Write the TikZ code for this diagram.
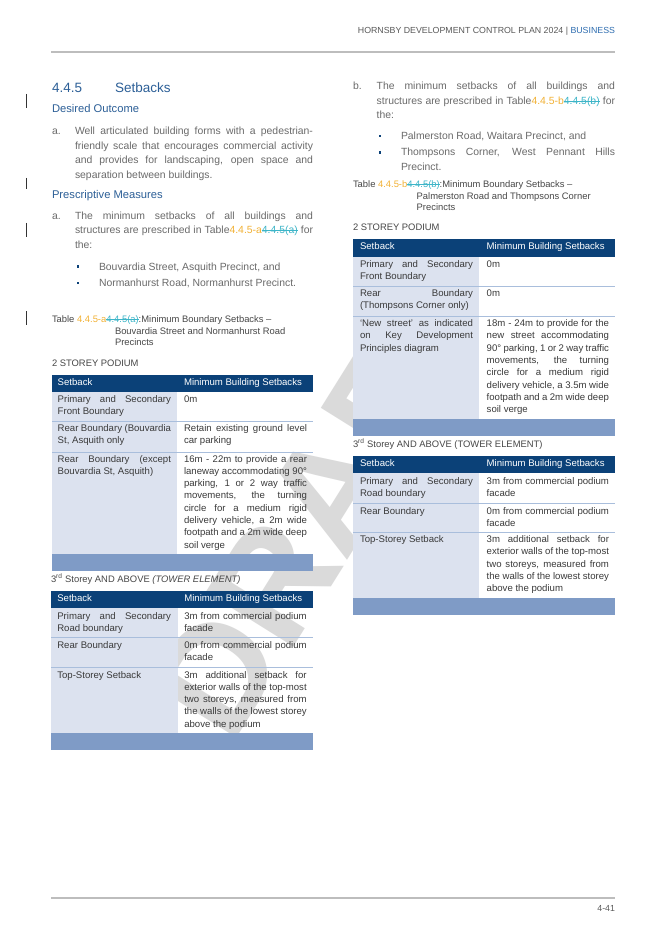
\documentclass[tikz,border=0pt]{standalone}
\usepackage{fontspec}
\setmainfont{Liberation Sans}
\definecolor{navy}{HTML}{0B4178}
\definecolor{cellblue}{HTML}{DCE2EF}
\definecolor{footblue}{HTML}{7F9BC6}
\definecolor{rowline}{HTML}{A9BEDC}
\definecolor{bodygrey}{HTML}{6A6A6A}
\definecolor{cellgrey}{HTML}{3A3A3A}
\definecolor{capgrey}{HTML}{474747}
\definecolor{titleblue}{HTML}{2C5F97}
\definecolor{busblue}{HTML}{2E6DB0}
\definecolor{refor}{HTML}{F2B134}
\definecolor{reftl}{HTML}{3DB5C8}
\definecolor{rulegrey}{HTML}{BDBDBD}
\definecolor{wmgrey}{HTML}{DADADA}
\newsavebox\strkbox
\newcommand\strk[1]{\sbox\strkbox{#1}\rlap{\rule[0.3em]{\wd\strkbox}{0.5pt}}\usebox\strkbox}
\newcommand\orn[1]{\textcolor{refor}{#1}}
\newcommand\tea[1]{\textcolor{reftl}{\strk{#1}}}
\newcommand\jl[2]{\makebox[#1pt][s]{#2}}
\newcommand\fbody{\fontsize{10.4}{14.5}\selectfont}
\newcommand\fcell{\fontsize{9.6}{12.3}\selectfont}
\newcommand\fcap{\fontsize{9.4}{11.7}\selectfont}
\newcommand\fhead{\fontsize{8.8}{10}\selectfont}
\newcommand\ftitle{\fontsize{13.5}{16}\selectfont}
\newcommand\fsub{\fontsize{11.2}{13}\selectfont}
\tikzset{
  txt/.style={anchor=base west, inner sep=0pt, outer sep=0pt},
  body/.style={txt, font=\fbody, text=bodygrey},
  cell/.style={txt, font=\fcell, text=cellgrey},
  hcell/.style={txt, font=\fcell, text=white},
  captxt/.style={txt, font=\fcap, text=capgrey},
  titletxt/.style={txt, font=\ftitle, text=titleblue},
  subtxt/.style={txt, font=\fsub, text=titleblue},
  bsq/.style={fill=navy, inner sep=0pt, minimum size=2.6pt},
  chbar/.style={draw=black!80, line width=0.9pt},
  rowsep/.style={draw=rowline, line width=0.9pt},
  rulel/.style={draw=rulegrey, line width=1.3pt},
}
\begin{document}
\begin{tikzpicture}[x=1pt,y=-1pt]
\useasboundingbox (0,0) rectangle (666,941);
\fill[white] (0,0) rectangle (666,941);
% watermark
\node[rotate=58, text=wmgrey, font=\fontsize{150}{150}\selectfont\bfseries, inner sep=0pt] (wm) at (322,504) {DRAFT};
% header / footer
\node[txt, anchor=base east, font=\fhead, text=black!65] (hdr) at (615,34) {HORNSBY DEVELOPMENT CONTROL PLAN 2024 | \textcolor{busblue}{BUSINESS}};
\coordinate (hr1) at (51,52); \coordinate (hr2) at (615,52);
\draw[rulel] (hr1) -- (hr2);
\coordinate (fr1) at (51,898); \coordinate (fr2) at (615,898);
\draw[rulel] (fr1) -- (fr2);
\node[txt, anchor=base east, font=\fhead, text=black!65] (pg) at (615,911) {4-41};
% change bars
\coordinate (cb1a) at (26,94); \coordinate (cb1b) at (26,108); \draw[chbar] (cb1a) -- (cb1b);
\coordinate (cb2a) at (26,178); \coordinate (cb2b) at (26,189); \draw[chbar] (cb2a) -- (cb2b);
\coordinate (cb3a) at (26,223); \coordinate (cb3b) at (26,237); \draw[chbar] (cb3a) -- (cb3b);
\coordinate (cb4a) at (26,311); \coordinate (cb4b) at (26,325); \draw[chbar] (cb4a) -- (cb4b);
% ---------- left column
\node[titletxt] (secn) at (52,93) {4.4.5};
\node[titletxt] (sect) at (115,93) {Setbacks};
\node[subtxt] (desired) at (52,113) {Desired Outcome};
\node[body] (la) at (52,135) {a.};
\node[body] (la1) at (75,135) {\jl{238}{Well articulated building forms with a pedestrian-}};
\node[body] (la2) at (75,149.5) {\jl{238}{friendly scale that encourages commercial activity}};
\node[body] (la3) at (75,164) {\jl{238}{and provides for landscaping, open space and}};
\node[body] (la4) at (75,178.5) {separation between buildings.};
\node[subtxt] (presc) at (52,199) {Prescriptive Measures};
\node[body] (lb) at (52,219) {a.};
\node[body] (lb1) at (75,219) {\jl{238}{The minimum setbacks of all buildings and}};
\node[body] (lb2) at (75,233.5) {\jl{238}{structures are prescribed in Table\orn{4.4.5-a}\tea{4.4.5(a)} for}};
\node[body] (lb3) at (75,248) {the:};
\node[bsq] (bl1) at (78,266.5) {};
\node[body] (lbt1) at (99,270) {Bouvardia Street, Asquith Precinct, and};
\node[bsq] (bl2) at (78,283) {};
\node[body] (lbt2) at (99,286.5) {Normanhurst Road, Normanhurst Precinct.};
\node[captxt] (capa1) at (52,322.5) {Table \orn{4.4.5-a}\tea{4.4.5(a)}:Minimum Boundary Setbacks –};
\node[captxt] (capa2) at (115,334.2) {Bouvardia Street and Normanhurst Road};
\node[captxt] (capa3) at (115,345.9) {Precincts};
\node[captxt] (poda) at (52,366) {2 STOREY PODIUM};
% table L1
\fill[navy] (52,375) rectangle (313,392);
\fill[cellblue] (52,392) rectangle (177,554);
\fill[footblue] (52,554) rectangle (313,571);
\coordinate (l1s1a) at (52,421); \coordinate (l1s1b) at (313,421); \draw[rowsep] (l1s1a) -- (l1s1b);
\coordinate (l1s2a) at (52,452); \coordinate (l1s2b) at (313,452); \draw[rowsep] (l1s2a) -- (l1s2b);
\node[hcell] (l1h1) at (57.7,385) {Setback};
\node[hcell] (l1h2) at (184,385) {Minimum Building Setbacks};
\node[cell] (l1a1) at (57.7,402.5) {\jl{113.3}{Primary and Secondary}};
\node[cell] (l1a2) at (57.7,414.8) {Front Boundary};
\node[cell] (l1b1) at (184,402.5) {0m};
\node[cell] (l1c1) at (57.7,431.5) {\jl{113.3}{Rear Boundary (Bouvardia}};
\node[cell] (l1c2) at (57.7,443.8) {St, Asquith only};
\node[cell] (l1d1) at (184,431.5) {\jl{123}{Retain existing ground level}};
\node[cell] (l1d2) at (184,443.8) {car parking};
\node[cell] (l1e1) at (57.7,462) {\jl{113.3}{Rear Boundary (except}};
\node[cell] (l1e2) at (57.7,474.3) {Bouvardia St, Asquith)};
\node[cell] (l1f1) at (184,462) {\jl{123}{16m - 22m to provide a rear}};
\node[cell] (l1f2) at (184,474.3) {\jl{123}{laneway accommodating 90°}};
\node[cell] (l1f3) at (184,486.6) {\jl{123}{parking, 1 or 2 way traffic}};
\node[cell] (l1f4) at (184,498.9) {\jl{123}{movements, the turning}};
\node[cell] (l1f5) at (184,511.2) {\jl{123}{circle for a medium rigid}};
\node[cell] (l1f6) at (184,523.5) {\jl{123}{delivery vehicle, a 2m wide}};
\node[cell] (l1f7) at (184,535.8) {\jl{123}{footpath and a 2m wide deep}};
\node[cell] (l1f8) at (184,548.1) {soil verge};
\node[captxt] (towa) at (51,582) {3\textsuperscript{rd} Storey AND ABOVE \textit{(TOWER ELEMENT)}};
% table L2
\fill[navy] (51,591) rectangle (313,608);
\fill[cellblue] (51,608) rectangle (178,733);
\fill[footblue] (51,733) rectangle (313,750);
\coordinate (l2s1a) at (51,637) ; \coordinate (l2s1b) at (313,637); \draw[rowsep] (l2s1a) -- (l2s1b);
\coordinate (l2s2a) at (51,667) ; \coordinate (l2s2b) at (313,667); \draw[rowsep] (l2s2a) -- (l2s2b);
\node[hcell] (l2h1) at (57.3,601.5) {Setback};
\node[hcell] (l2h2) at (184.3,601.5) {Minimum Building Setbacks};
\node[cell] (l2a1) at (57.3,619) {\jl{113.7}{Primary and Secondary}};
\node[cell] (l2a2) at (57.3,631.3) {Road boundary};
\node[cell] (l2b1) at (184.3,619) {\jl{122.4}{3m from commercial podium}};
\node[cell] (l2b2) at (184.3,631.3) {facade};
\node[cell] (l2c1) at (57.3,648) {Rear Boundary};
\node[cell] (l2d1) at (184.3,648) {\jl{122.4}{0m from commercial podium}};
\node[cell] (l2d2) at (184.3,660.3) {facade};
\node[cell] (l2e1) at (57.3,678) {Top-Storey Setback};
\node[cell] (l2f1) at (184.3,678) {\jl{122.4}{3m additional setback for}};
\node[cell] (l2f2) at (184.3,690.3) {\jl{122.4}{exterior walls of the top-most}};
\node[cell] (l2f3) at (184.3,702.6) {\jl{122.4}{two storeys, measured from}};
\node[cell] (l2f4) at (184.3,714.9) {\jl{122.4}{the walls of the lowest storey}};
\node[cell] (l2f5) at (184.3,727.2) {above the podium};
% ---------- right column
\node[body] (rb) at (353,90) {b.};
\node[body] (rb1) at (376.7,90) {\jl{238.3}{The minimum setbacks of all buildings and}};
\node[body] (rb2) at (376.7,104.5) {\jl{238.3}{structures are prescribed in Table\orn{4.4.5-b}\tea{4.4.5(b)} for}};
\node[body] (rb3) at (376.7,119) {the:};
\node[bsq] (br1) at (380,136) {};
\node[body] (rbt1) at (401,139.5) {Palmerston Road, Waitara Precinct, and};
\node[bsq] (br2) at (380,152.5) {};
\node[body] (rbt2) at (401,156) {\jl{214}{Thompsons Corner, West Pennant Hills}};
\node[body] (rbt3) at (401,170.5) {Precinct.};
\node[captxt] (capb1) at (353,187.3) {Table \orn{4.4.5-b}\tea{4.4.5(b)}:Minimum Boundary Setbacks –};
\node[captxt] (capb2) at (416.7,199.2) {Palmerston Road and Thompsons Corner};
\node[captxt] (capb3) at (416.7,211) {Precincts};
\node[captxt] (podb) at (353,230.5) {2 STOREY PODIUM};
% table R1
\fill[white] (353,239) rectangle (615,436);
\fill[navy] (353,239) rectangle (615,257);
\fill[cellblue] (353,257) rectangle (479,419);
\fill[footblue] (353,419) rectangle (615,436);
\coordinate (r1s1a) at (353,286); \coordinate (r1s1b) at (615,286); \draw[rowsep] (r1s1a) -- (r1s1b);
\coordinate (r1s2a) at (353,316); \coordinate (r1s2b) at (615,316); \draw[rowsep] (r1s2a) -- (r1s2b);
\node[hcell] (r1h1) at (360,249.5) {Setback};
\node[hcell] (r1h2) at (486.7,249.5) {Minimum Building Setbacks};
\node[cell] (r1a1) at (360,267.5) {\jl{113}{Primary and Secondary}};
\node[cell] (r1a2) at (360,279.8) {Front Boundary};
\node[cell] (r1b1) at (486.7,267.5) {0m};
\node[cell] (r1c1) at (360,296.5) {\jl{113}{Rear Boundary}};
\node[cell] (r1c2) at (360,308.8) {(Thompsons Corner only)};
\node[cell] (r1d1) at (486.7,296.5) {0m};
\node[cell] (r1e1) at (360,326.6) {\jl{113}{‘New street’ as indicated}};
\node[cell] (r1e2) at (360,338.9) {\jl{113}{on Key Development}};
\node[cell] (r1e3) at (360,351.2) {Principles diagram};
\node[cell] (r1f1) at (486.7,326.6) {\jl{122.3}{18m - 24m to provide for the}};
\node[cell] (r1f2) at (486.7,338.9) {\jl{122.3}{new street accommodating}};
\node[cell] (r1f3) at (486.7,351.2) {\jl{122.3}{90° parking, 1 or 2 way traffic}};
\node[cell] (r1f4) at (486.7,363.5) {\jl{122.3}{movements, the turning}};
\node[cell] (r1f5) at (486.7,375.8) {\jl{122.3}{circle for a medium rigid}};
\node[cell] (r1f6) at (486.7,388.1) {\jl{122.3}{delivery vehicle, a 3.5m wide}};
\node[cell] (r1f7) at (486.7,400.4) {\jl{122.3}{footpath and a 2m wide deep}};
\node[cell] (r1f8) at (486.7,412.7) {soil verge};
\fill[white] (353,436) rectangle (615,456);
\node[captxt] (towb) at (353,447.5) {3\textsuperscript{rd} Storey AND ABOVE (TOWER ELEMENT)};
% table R2
\fill[white] (353,456) rectangle (615,615);
\fill[navy] (353,456) rectangle (615,473);
\fill[cellblue] (353,473) rectangle (479,598);
\fill[footblue] (353,598) rectangle (615,615);
\coordinate (r2s1a) at (353,503); \coordinate (r2s1b) at (615,503); \draw[rowsep] (r2s1a) -- (r2s1b);
\coordinate (r2s2a) at (353,532); \coordinate (r2s2b) at (615,532); \draw[rowsep] (r2s2a) -- (r2s2b);
\node[hcell] (r2h1) at (360,466) {Setback};
\node[hcell] (r2h2) at (486.7,466) {Minimum Building Setbacks};
\node[cell] (r2a1) at (360,484) {\jl{113}{Primary and Secondary}};
\node[cell] (r2a2) at (360,496.3) {Road boundary};
\node[cell] (r2b1) at (486.7,484) {\jl{122.3}{3m from commercial podium}};
\node[cell] (r2b2) at (486.7,496.3) {facade};
\node[cell] (r2c1) at (360,514) {Rear Boundary};
\node[cell] (r2d1) at (486.7,514) {\jl{122.3}{0m from commercial podium}};
\node[cell] (r2d2) at (486.7,526.3) {facade};
\node[cell] (r2e1) at (360,542.5) {Top-Storey Setback};
\node[cell] (r2f1) at (486.7,542.5) {\jl{122.3}{3m additional setback for}};
\node[cell] (r2f2) at (486.7,554.8) {\jl{122.3}{exterior walls of the top-most}};
\node[cell] (r2f3) at (486.7,567.1) {\jl{122.3}{two storeys, measured from}};
\node[cell] (r2f4) at (486.7,579.4) {\jl{122.3}{the walls of the lowest storey}};
\node[cell] (r2f5) at (486.7,591.7) {above the podium};
\end{tikzpicture}
\end{document}
